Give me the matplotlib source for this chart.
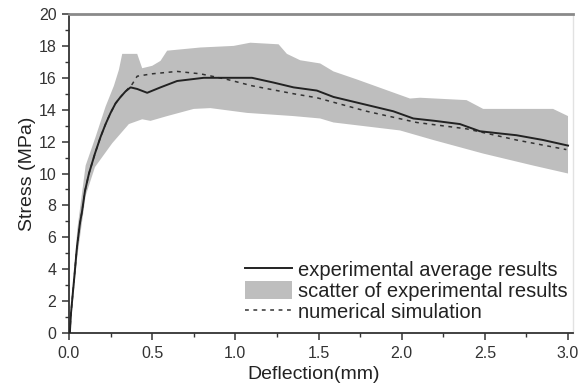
import numpy as np
import matplotlib
matplotlib.use('Agg')
import matplotlib.pyplot as plt
from matplotlib.patches import Patch
from matplotlib.lines import Line2D

# experimental average curve
avg_x = [0.005, 0.012, 0.03, 0.048, 0.066, 0.078, 0.096, 0.12, 0.156, 0.19, 0.22, 0.25,
         0.28, 0.31, 0.34, 0.37, 0.41, 0.47, 0.55, 0.65, 0.81, 0.95, 1.1, 1.23, 1.35,
         1.49, 1.59, 1.75, 1.95, 2.07, 2.2, 2.35, 2.47, 2.6, 2.69, 2.85, 3.0]
avg_y = [0.0, 1.25, 3.3, 5.4, 6.9, 7.6, 8.9, 10.0, 11.25, 12.3, 13.1, 13.8,
         14.4, 14.8, 15.15, 15.4, 15.3, 15.06, 15.4, 15.8, 16.0, 16.0, 16.0, 15.7, 15.4,
         15.2, 14.8, 14.4, 13.9, 13.45, 13.3, 13.1, 12.65, 12.5, 12.4, 12.1, 11.75]

# numerical simulation
sim_x = [0.005, 0.012, 0.03, 0.048, 0.066, 0.078, 0.096, 0.12, 0.156, 0.19, 0.22, 0.25,
         0.28, 0.31, 0.34, 0.38, 0.41, 0.5, 0.65, 0.79, 0.95, 1.1, 1.35, 1.49, 1.79,
         2.09, 2.39, 2.69, 2.99]
sim_y = [0.0, 1.25, 3.3, 5.4, 6.9, 7.6, 8.9, 10.0, 11.25, 12.3, 13.1, 13.8,
         14.4, 14.8, 15.15, 15.6, 16.1, 16.25, 16.4, 16.25, 15.9, 15.5, 15.0, 14.75, 13.9,
         13.2, 12.8, 12.1, 11.5]

# scatter band of experimental results
upper_x = [0.005, 0.05, 0.1, 0.16, 0.22, 0.27, 0.30, 0.32, 0.41, 0.44, 0.5, 0.55, 0.59,
           0.79, 0.99, 1.09, 1.26, 1.31, 1.39, 1.51, 1.59, 1.73, 2.05, 2.11, 2.39,
           2.49, 2.91, 3.0]
upper_y = [0.0, 6.5, 10.5, 12.3, 14.2, 15.5, 16.5, 17.5, 17.5, 16.6, 16.75, 17.06, 17.7,
           17.9, 18.0, 18.2, 18.1, 17.5, 17.1, 16.9, 16.4, 15.9, 14.7, 14.75, 14.6,
           14.05, 14.05, 13.6]
lower_x = [0.005, 0.05, 0.1, 0.156, 0.26, 0.36, 0.44, 0.49, 0.59, 0.75, 0.85, 1.07,
           1.35, 1.51, 1.59, 1.99, 2.19, 2.49, 2.79, 3.0]
lower_y = [0.0, 4.8, 8.6, 10.4, 11.9, 13.1, 13.4, 13.3, 13.6, 14.05, 14.1, 13.8,
           13.6, 13.45, 13.2, 12.7, 12.1, 11.25, 10.5, 10.0]

plt.rcParams['font.family'] = ['Liberation Sans', 'DejaVu Sans']

fig = plt.figure(figsize=(5.83, 3.87), dpi=100)
ax = fig.add_axes([69 / 583, 54 / 387, 504 / 583, 319 / 387])

band_x = np.concatenate([upper_x, lower_x[::-1]])
band_y = np.concatenate([upper_y, lower_y[::-1]])
ax.fill(band_x, band_y, color='#bebebe', lw=0, zorder=1)
ax.plot(avg_x, avg_y, color='#222222', lw=1.4, zorder=3)
ax.plot(sim_x, sim_y, color='#333333', lw=1.1, ls=(0, (2.5, 3)), zorder=2)

ax.set_xlim(0, 3.03)
ax.set_ylim(0, 20)
ax.set_xticks(np.arange(0, 3.01, 0.5))
ax.set_xticks(np.arange(0.25, 3.01, 0.5), minor=True)
ax.set_yticks(np.arange(0, 21, 2))
ax.set_yticks(np.arange(1, 20, 2), minor=True)
ax.xaxis.set_major_formatter(matplotlib.ticker.FormatStrFormatter('%.1f'))

for side in ['left', 'bottom']:
    ax.spines[side].set_color('#333333')
    ax.spines[side].set_linewidth(1.3)
ax.spines['top'].set_color('#8a8a8a')
ax.spines['top'].set_linewidth(2)
ax.spines['right'].set_color('#e2e2e2')
ax.spines['right'].set_linewidth(1)

ax.tick_params(which='major', direction='out', length=5, width=1.1, color='#333333',
               labelsize=11.5, labelcolor='#333333', pad=4)
ax.tick_params(which='minor', direction='out', length=3, width=1, color='#333333')
ax.tick_params(top=False, right=False)

ax.set_xlabel('Deflection(mm)', fontsize=14, color='#222222', labelpad=3)
ax.set_ylabel('Stress (MPa)', fontsize=14, color='#222222', labelpad=2)
ax.xaxis.set_label_coords(0.485, -0.105)

handles = [Line2D([], [], color='#222222', lw=1.4),
           Patch(facecolor='#bebebe', edgecolor='none'),
           Line2D([], [], color='#333333', lw=1.1, ls=(0, (2.5, 3)))]
labels = ['experimental average results', 'scatter of experimental results',
          'numerical simulation']
ax.legend(handles, labels, loc='lower right', bbox_to_anchor=(1.009, 0.002),
          frameon=False, fontsize=14.5, handlelength=2.3, handleheight=1.0,
          handletextpad=0.3, labelspacing=0.06, borderpad=0, labelcolor='#222222')

fig.savefig('out.png', dpi=100)
